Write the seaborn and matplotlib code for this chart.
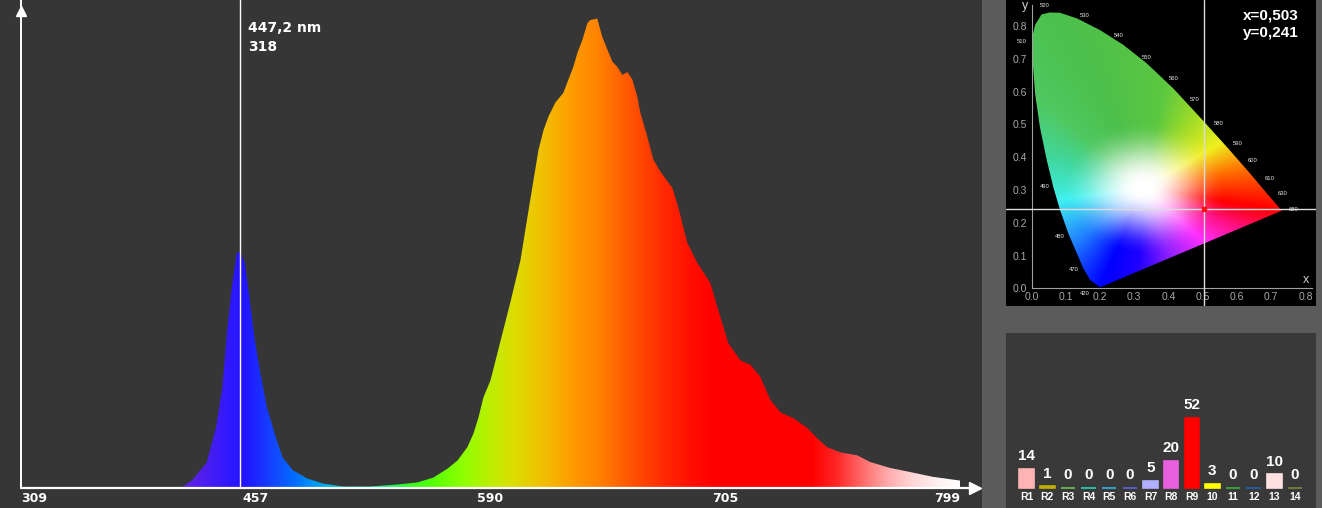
import numpy as np
import matplotlib
matplotlib.use("Agg")
import matplotlib.pyplot as plt
import seaborn as sns
from matplotlib.patches import Polygon, Rectangle
from matplotlib import font_manager
from matplotlib.colors import to_rgb

# ------------------------------------------------------------------ data
wavelength_nm = [309, 359, 390, 411, 417, 426, 432, 436, 439, 442, 445, 447.2, 450, 453,
                 456.4, 459.3, 463.3, 468.9, 472.3, 478, 486, 495.1, 506.5, 521.8, 537.1,
                 548.5, 557.6, 565.6, 571.3, 576.9, 580.3, 583.2, 586, 590, 595, 600,
                 604.7, 608.1, 611.1, 613.5, 616,
                 618.4, 621.8, 625.7, 628.2, 630.6, 632.6, 635, 637.5, 638.9, 642.3,
                 644.8, 647.3, 649.7, 652.1, 654.6, 657, 659.5, 661.9, 663.4, 666.8,
                 669.8, 673.2, 679.1, 682, 686.4, 691.3, 697.7, 701.1, 706.2, 711, 715,
                 719, 723, 727, 732.2, 737.8, 741.8, 745.8, 751, 757.8, 763, 771, 779,
                 788.2, 799]
intensity = [1, 1, 1, 1.5, 11, 34, 82, 136, 213, 271, 316, 318, 303, 257,
             199, 159, 109, 64, 41, 24, 13, 6, 2, 2, 4.7,
             7.4, 14, 26, 37, 55, 73, 95, 122, 145, 199, 253,
             307, 365, 415, 455, 482,
             500, 519, 532, 550, 567, 586, 603, 626, 630, 632,
             607, 590, 574, 567, 556, 560, 550, 527, 505, 473,
             442, 426, 404, 378, 330, 303, 276, 244, 195, 172, 166,
             150, 119, 102, 94, 81, 67, 55, 48, 44, 35, 27, 21.5,
             15, 10]
axis_tick_nm = [309, 457, 590, 705, 799]
marker_nm = 447.2
marker_value = 318

cri_labels = ["R1", "R2", "R3", "R4", "R5", "R6", "R7", "R8", "R9", "10", "11", "12", "13", "14"]
cri_values = [14, 1, 0, 0, 0, 0, 5, 20, 52, 3, 0, 0, 10, 0]
cri_colors = ["#ffb4b4", "#c0b000", "#70c050", "#20d8b0", "#30b0e0", "#6060e0", "#b0b0ff",
              "#e860e0", "#ff0000", "#ffff00", "#40b040", "#2060b0", "#ffe0e0", "#808040"]

cie_x_point = 0.503
cie_y_point = 0.241
locus_x = [0.200, 0.171, 0.151, 0.132, 0.107, 0.083, 0.063, 0.044, 0.024, 0.010, 0.002,
           0.002, 0.010, 0.029, 0.054, 0.083, 0.132, 0.200, 0.268, 0.336, 0.414, 0.499,
           0.570, 0.638, 0.687, 0.731]
locus_y = [0.003, 0.025, 0.061, 0.107, 0.168, 0.239, 0.310, 0.392, 0.493, 0.595, 0.707,
           0.768, 0.804, 0.836, 0.842, 0.841, 0.824, 0.788, 0.743, 0.687, 0.610, 0.514,
           0.432, 0.351, 0.290, 0.237]
locus_labels = ["520", "530", "540", "550", "560", "570", "580", "590", "600", "610", "630",
                "680", "510", "490", "480", "470", "420"]
cie_ticks = [0.0, 0.1, 0.2, 0.3, 0.4, 0.5, 0.6, 0.7, 0.8]

# ------------------------------------------------------------------ styles
sns.set_style("white")
avail = {f.name for f in font_manager.fontManager.ttflist}
ARIAL = "Liberation Sans" if "Liberation Sans" in avail else "DejaVu Sans"
NARROW = "Liberation Sans Narrow" if "Liberation Sans Narrow" in avail else ARIAL
plt.rcParams["font.family"] = ["DejaVu Sans"]

label_pos = [(0.037, 0.862), (0.154, 0.832), (0.253, 0.773), (0.336, 0.705), (0.416, 0.641),
             (0.476, 0.577), (0.546, 0.503), (0.601, 0.442), (0.646, 0.390), (0.697, 0.336),
             (0.734, 0.288), (0.767, 0.241), (-0.028, 0.753), (0.039, 0.310), (0.083, 0.158),
             (0.124, 0.058), (0.156, -0.015)]

grad_stops = [(309, "#9070b0"), (400, "#6a2ad0"), (420, "#5520e8"), (440, "#3018ff"),
              (450, "#2214ff"), (460, "#1a30ff"), (470, "#1050ff"), (480, "#0070ff"),
              (490, "#0098f0"), (500, "#00b8e0"), (515, "#00d8b0"), (530, "#10f070"),
              (545, "#38ff20"), (560, "#60ff00"), (575, "#90ff00"), (588, "#b8f000"),
              (600, "#d8e000"), (612, "#ecc800"), (622, "#f8b000"), (632, "#ff9800"),
              (642, "#ff8400"), (652, "#ff6800"), (662, "#ff4c00"), (675, "#ff2a00"),
              (690, "#ff0c00"), (700, "#ff0000"), (740, "#ff0000"), (750, "#ff2828"),
              (760, "#ff6a6a"), (770, "#ffaaaa"), (780, "#ffd6d6"), (790, "#fff0f0"),
              (799, "#ffffff")]

# hue around the white point of the CIE picture (angle in degrees -> colour)
cie_hues = [(-180, "#40e8d0"), (-171, "#40f0f0"), (-140, "#2080ff"), (-113, "#0000ff"),
            (-94, "#2000ff"), (-70, "#9020ff"), (-43, "#ff30ff"), (-23, "#ff1080"),
            (-10, "#ff0000"), (11, "#ff7000"), (31, "#f0f020"), (56, "#a0dc28"),
            (79, "#5cc840"), (114, "#4cc04c"), (138, "#50c860"), (162, "#40d8a0"),
            (180, "#40e8d0")]
WHITE_PT = (0.327, 0.305)

W, H = 1322, 508
fig = plt.figure(figsize=(W / 100, H / 100), dpi=100)
fig.patch.set_facecolor("#5b5b5b")
fig.add_artist(Rectangle((0, 0), 982 / W, 1, transform=fig.transFigure,
                         facecolor="#363636", edgecolor="none", zorder=-5))

# ------------------------------------------------------------------ spectrum
ax = fig.add_axes([21 / W, 20 / H, 939 / W, 488 / H])
ax.set_facecolor("#363636")
tick_t = np.linspace(0, 1, len(axis_tick_nm))


def fwd(v):
    return np.interp(np.asarray(v, float), axis_tick_nm, tick_t)


def inv(v):
    return np.interp(np.asarray(v, float), tick_t, axis_tick_nm)


ax.set_xscale("function", functions=(fwd, inv))
poly = ax.fill_between(wavelength_nm, intensity, 0, facecolor="none", edgecolor="none")

cols_t = np.linspace(0, 1, 1500)
cols_nm = inv(cols_t)
stop_nm = [s[0] for s in grad_stops]
stop_rgb = np.array([to_rgb(s[1]) for s in grad_stops])
img = np.stack([np.interp(cols_nm, stop_nm, stop_rgb[:, k]) for k in range(3)], axis=-1)[None, :, :]
im = ax.imshow(img, extent=(0, 1, 0, 1), transform=ax.transAxes, aspect="auto",
               interpolation="bilinear", zorder=1)
im.set_clip_path(poly.get_paths()[0], ax.transData)

ax.set_xlim(axis_tick_nm[0], axis_tick_nm[-1])
ax.set_ylim(0, 657)
for s in ax.spines.values():
    s.set_visible(False)
ax.set_yticks([])
ax.set_xticks(axis_tick_nm)
ax.set_xticklabels([str(v) for v in axis_tick_nm])
ax.tick_params(axis="x", length=0, pad=3, labelcolor="white", labelsize=9)
for lab in ax.get_xticklabels():
    lab.set_fontweight("bold")
ax.get_xticklabels()[0].set_ha("left")
ax.get_xticklabels()[-1].set_ha("right")

ax.plot([0, 1.012], [0, 0], transform=ax.transAxes, color="white", lw=1.6, clip_on=False, zorder=5)
ax.plot([0, 0], [0, 1.0], transform=ax.transAxes, color="white", lw=1.4, clip_on=False, zorder=5)
ax.plot([1.016], [0], marker=">", ms=8, color="white", transform=ax.transAxes, clip_on=False, zorder=6)
ax.plot([0], [0.977], marker="^", ms=7, color="white", transform=ax.transAxes, clip_on=False, zorder=6)

ax.axvline(marker_nm, color="white", lw=1.0, zorder=4)
ax.annotate(f"{marker_nm:.1f}".replace(".", ",") + " nm", xy=(marker_nm, 0.943),
            xycoords=("data", "axes fraction"), xytext=(5.5, 0), textcoords="offset points",
            color="white", fontsize=10, fontweight="bold", va="center", ha="left")
ax.annotate(f"{marker_value}", xy=(marker_nm, 0.904),
            xycoords=("data", "axes fraction"), xytext=(5.5, 0), textcoords="offset points",
            color="white", fontsize=10, fontweight="bold", va="center", ha="left")

# ------------------------------------------------------------------ CIE diagram
cie = fig.add_axes([1006 / W, 202 / H, 310 / W, 306 / H])
cie.set_facecolor("black")
gx, gy = np.meshgrid(np.linspace(0, 0.8, 480), np.linspace(0, 0.9, 540))
dx, dy = gx - WHITE_PT[0], gy - WHITE_PT[1]
ang = np.degrees(np.arctan2(dy, dx))
dist = np.hypot(dx * 0.85, dy)
h_ang = [h[0] for h in cie_hues]
h_rgb = np.array([to_rgb(h[1]) for h in cie_hues])
edge = np.stack([np.interp(ang, h_ang, h_rgb[:, k]) for k in range(3)], axis=-1)
sat = np.clip((dist - 0.015) / 0.19, 0, 1)
sat = sat * sat * (3 - 2 * sat)
rgb = (1 - sat[..., None]) * 1.0 + sat[..., None] * edge
cim = cie.imshow(rgb, extent=(0, 0.8, 0, 0.9), origin="lower", aspect="auto",
                 interpolation="bilinear", zorder=1)
locus_patch = Polygon(np.column_stack([locus_x, locus_y]), closed=True,
                      facecolor="none", edgecolor="none")
cie.add_patch(locus_patch)
cim.set_clip_path(locus_patch)

cie.set_xlim(-0.075, 0.831)
cie.set_ylim(-0.054, 0.880)
for side in ("top", "right"):
    cie.spines[side].set_visible(False)
cie.spines["left"].set_position(("data", 0))
cie.spines["bottom"].set_position(("data", 0))
cie.spines["left"].set_bounds(0, 0.865)
cie.spines["bottom"].set_bounds(0, 0.82)
for side in ("left", "bottom"):
    cie.spines[side].set_color("#a0a0a0")
    cie.spines[side].set_linewidth(0.8)
    cie.spines[side].set_zorder(3)
cie.set_xticks(cie_ticks)
cie.set_yticks(cie_ticks)
cie.set_xticklabels([f"{v:.1f}" for v in cie_ticks])
cie.set_yticklabels([f"{v:.1f}" for v in cie_ticks])
cie.tick_params(direction="in", length=3, width=0.6, color="#a0a0a0", labelcolor="#a8a8a8",
                labelsize=7.5, pad=3)
for lab in cie.get_xticklabels() + cie.get_yticklabels():
    lab.set_family(ARIAL)
cie.text(-0.019, 0.862, "y", color="#d0d0d0", fontsize=9, ha="center", va="center", family=ARIAL)
cie.text(0.802, 0.025, "x", color="#d0d0d0", fontsize=9, ha="center", va="center", family=ARIAL)
for lab, (px, py) in zip(locus_labels, label_pos):
    cie.text(px, py, lab, color="#e8e8e8", fontsize=4.2, ha="center", va="center", zorder=4,
             family=ARIAL)
cie.axhline(cie_y_point, color="#dcdcdc", lw=1.0, zorder=5)
cie.axvline(cie_x_point, color="#dcdcdc", lw=1.0, zorder=5)
cie.plot([cie_x_point], [cie_y_point], marker="s", ms=3.5, color="#ff1010", zorder=6)
cie.text(0.781, 0.832, f"x={cie_x_point:.3f}".replace(".", ","), color="white", fontsize=11,
         fontweight="bold", ha="right", va="center", family=ARIAL, zorder=6)
cie.text(0.781, 0.778, f"y={cie_y_point:.3f}".replace(".", ","), color="white", fontsize=11,
         fontweight="bold", ha="right", va="center", family=ARIAL, zorder=6)

# ------------------------------------------------------------------ CRI bars
cax = fig.add_axes([1006 / W, 0, 310 / W, 175 / H])
sns.barplot(x=cri_labels, y=cri_values, hue=cri_labels, order=cri_labels, hue_order=cri_labels,
            palette=cri_colors, legend=False, saturation=1, width=0.7, ax=cax)
for cont in cax.containers:
    for bar in cont:
        bar.set_edgecolor(bar.get_facecolor())
        bar.set_linewidth(1.2)
cax.set_facecolor("#393939")
cax.set_xlim(-1.0, 14.02)
cax.set_ylim(-15.1, 115)
cax.set_xticks([])
cax.set_yticks([])
cax.set_xlabel("")
cax.set_ylabel("")
for s in cax.spines.values():
    s.set_visible(False)
for i, (lab, v) in enumerate(zip(cri_labels, cri_values)):
    cax.text(i, -7, lab, color="white", fontsize=7.5, fontweight="bold", ha="center",
             va="center", family=NARROW)
    cax.annotate(str(v), (i, v), xytext=(0, 9), textcoords="offset points", ha="center",
                 va="center", color="white", fontsize=11, fontweight="bold", family=NARROW)

fig.savefig("out.png", dpi=100, facecolor=fig.get_facecolor())
